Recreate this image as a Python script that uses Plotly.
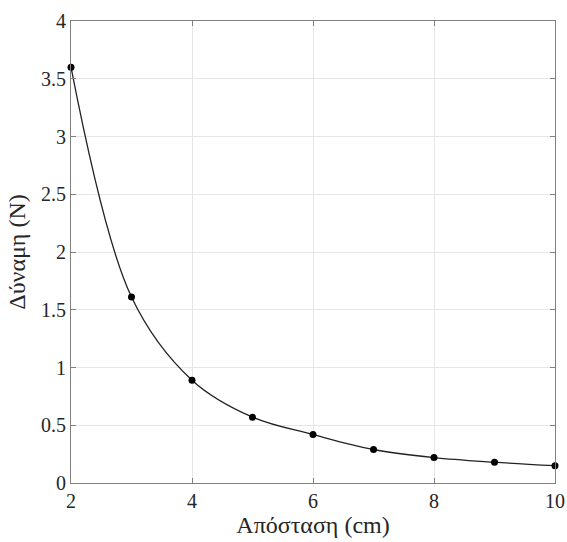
import plotly.graph_objects as go

distance_cm = [2, 3, 4, 5, 6, 7, 8, 9, 10]
force_N = [3.6, 1.61, 0.89, 0.57, 0.42, 0.29, 0.22, 0.18, 0.15]
x_ticks = [2, 4, 6, 8, 10]
y_ticks = [0, 0.5, 1, 1.5, 2, 2.5, 3, 3.5, 4]
y_tick_labels = ["0", "0.5", "1", "1.5", "2", "2.5", "3", "3.5", "4"]

font_family = "Liberation Serif"

fig = go.Figure()
fig.add_trace(go.Scatter(
    x=distance_cm, y=force_N, mode="lines",
    line=dict(color="#222222", width=1.3, shape="spline", smoothing=1.0),
    showlegend=False, hoverinfo="skip",
))
fig.add_trace(go.Scatter(
    x=distance_cm, y=force_N, mode="markers",
    marker=dict(color="black", size=7),
    showlegend=False, cliponaxis=False,
))

axis_common = dict(
    showline=True, linecolor="#808080", linewidth=1, mirror="ticks",
    ticks="inside", ticklen=5, tickcolor="#808080",
    showgrid=True, gridcolor="#e6e6e6", gridwidth=1,
    zeroline=False, automargin=False,
    tickfont=dict(family=font_family, size=20, color="#262626"),
)

fig.update_xaxes(
    range=[2, 10], tickvals=x_ticks, ticktext=[str(v) for v in x_ticks],
    title=dict(text="Απόσταση (cm)", font=dict(family=font_family, size=24, color="#262626"), standoff=5),
    **axis_common,
)
fig.update_yaxes(
    range=[0, 4], tickvals=y_ticks, ticktext=y_tick_labels,
    title=dict(text="Δύναμη (N)", font=dict(family=font_family, size=24, color="#262626"), standoff=8),
    **axis_common,
)

fig.update_layout(
    width=567, height=542,
    margin=dict(l=71, r=12, t=21, b=59),
    paper_bgcolor="white", plot_bgcolor="white",
    font=dict(family=font_family),
)

fig.write_html(
    "out.html",
    config={"displayModeBar": False},
    post_script="document.body.style.margin='0';document.body.style.overflow='hidden';",
)
